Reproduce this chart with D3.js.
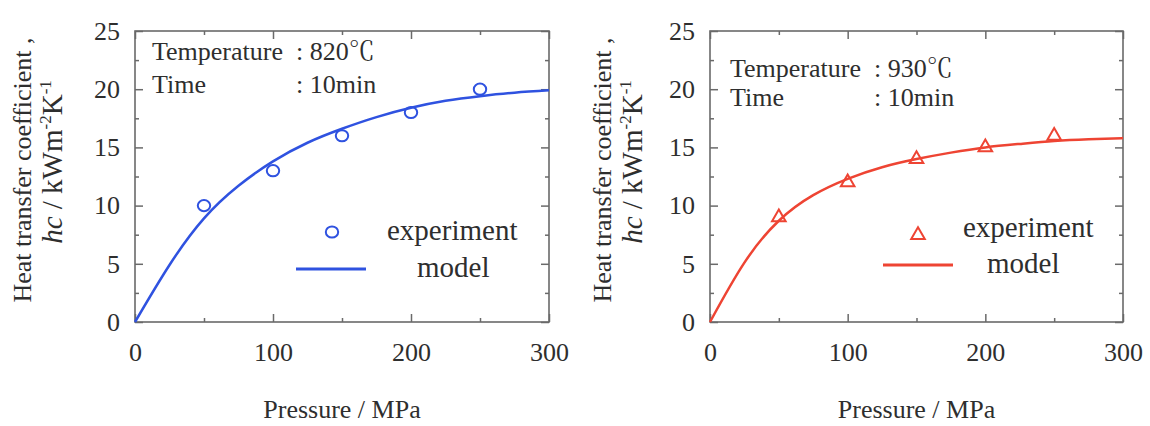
<!DOCTYPE html>
<html>
<head>
<meta charset="utf-8">
<script src="https://cdn.jsdelivr.net/npm/d3@7"></script>
<style>
  html, body { margin: 0; padding: 0; background: #fff; }
  svg { display: block; }
  text { font-family: "Liberation Serif", "Times New Roman", "Noto Serif CJK JP", "Noto Sans CJK JP", serif; fill: #2e2e2e; }
</style>
</head>
<body>
<svg id="chart" width="1150" height="426"></svg>
<script>
// ---- data ----
const pressureTicks = [0, 100, 200, 300];
const pressureMinor = [50, 150, 250];
const hcTicks = [0, 5, 10, 15, 20, 25];
const hcMinor = [2.5, 7.5, 12.5, 17.5, 22.5];

const expPressure = [50, 100, 150, 200, 250];
const exp820 = [10, 13, 16, 18, 20];
const exp930 = [9, 12, 14, 15, 16];

const modelPressure = [0, 25, 50, 75, 100, 125, 150, 175, 200, 225, 250, 275, 300];
const model820 = [0, 4.9, 8.9, 11.7, 13.8, 15.4, 16.6, 17.6, 18.4, 19.0, 19.4, 19.7, 19.9];
const model930 = [0, 5.1, 8.7, 10.9, 12.3, 13.3, 14.0, 14.55, 15.0, 15.3, 15.55, 15.7, 15.8];

const panels = [
  { temp: "820℃", time: "10min", exp: exp820, model: model820, color: "#2f52e0", marker: "circle" },
  { temp: "930℃", time: "10min", exp: exp930, model: model930, color: "#ee4433", marker: "triangle" }
];

const layout = [
  { x0: 135, x1: 549, y0: 31, y1: 322, lab1x: 31, lab2x: 62, lab1y: 170, lab2y: 162,
    tx: 152, colonx: 296, ty1: 60, ty2: 93,
    legMarkX: 332, legMarkY: 232, legExpX: 387, legExpY: 240, legLine: [296, 366], legLineY: 269, legModelX: 417, legModelY: 277 },
  { x0: 710, x1: 1123, y0: 31, y1: 322, lab1x: 611, lab2x: 642, lab1y: 170, lab2y: 162,
    tx: 730, colonx: 874, ty1: 77, ty2: 106,
    legMarkX: 918, legMarkY: 235, legExpX: 963, legExpY: 237, legLine: [883, 953], legLineY: 265, legModelX: 987, legModelY: 273 }
];

const svg = d3.select("#chart");
const FS = 26;
const LEG_FS = 29;
const axisColor = "#6a6a6a";

panels.forEach((p, i) => {
  const L = layout[i];
  const x = d3.scaleLinear().domain([0, 300]).range([L.x0, L.x1]);
  const y = d3.scaleLinear().domain([0, 25]).range([L.y1, L.y0]);
  const g = svg.append("g");

  function styleAxis(sel) {
    sel.select(".domain").remove();
    sel.selectAll("line").attr("stroke", axisColor).attr("stroke-width", 1.5);
    sel.selectAll("text").style("font-size", FS + "px").attr("fill", "#2e2e2e");
  }

  // major axes with labels
  g.append("g").attr("transform", `translate(0,${L.y1})`)
    .call(d3.axisBottom(x).tickValues(pressureTicks).tickSize(-8).tickPadding(21).tickFormat(d3.format("d")))
    .call(styleAxis);
  g.append("g").attr("transform", `translate(${L.x0},0)`)
    .call(d3.axisLeft(y).tickValues(hcTicks).tickSize(-8).tickPadding(15).tickFormat(d3.format("d")))
    .call(styleAxis);
  // opposite sides, no labels
  g.append("g").attr("transform", `translate(0,${L.y0})`)
    .call(d3.axisTop(x).tickValues(pressureTicks).tickSize(-8).tickFormat(""))
    .call(styleAxis);
  g.append("g").attr("transform", `translate(${L.x1},0)`)
    .call(d3.axisRight(y).tickValues(hcTicks).tickSize(-8).tickFormat(""))
    .call(styleAxis);
  // minor ticks
  g.append("g").attr("transform", `translate(0,${L.y1})`)
    .call(d3.axisBottom(x).tickValues(pressureMinor).tickSize(-4).tickFormat("")).call(styleAxis);
  g.append("g").attr("transform", `translate(0,${L.y0})`)
    .call(d3.axisTop(x).tickValues(pressureMinor).tickSize(-4).tickFormat("")).call(styleAxis);
  g.append("g").attr("transform", `translate(${L.x0},0)`)
    .call(d3.axisLeft(y).tickValues(hcMinor).tickSize(-4).tickFormat("")).call(styleAxis);
  g.append("g").attr("transform", `translate(${L.x1},0)`)
    .call(d3.axisRight(y).tickValues(hcMinor).tickSize(-4).tickFormat("")).call(styleAxis);

  // frame
  g.append("rect").attr("x", L.x0).attr("y", L.y0).attr("width", L.x1 - L.x0).attr("height", L.y1 - L.y0)
    .attr("fill", "none").attr("stroke", axisColor).attr("stroke-width", 1.6);

  // model curve
  const modelData = modelPressure.map((v, k) => [v, p.model[k]]);
  const line = d3.line().x(d => x(d[0])).y(d => y(d[1])).curve(d3.curveNatural);
  g.append("path").datum(modelData).attr("d", line)
    .attr("fill", "none").attr("stroke", p.color).attr("stroke-width", 2.5);

  // experiment markers
  const expData = expPressure.map((v, k) => [v, p.exp[k]]);
  function drawMarker(sel, cx, cy) {
    if (p.marker === "circle") {
      sel.append("ellipse").attr("cx", cx).attr("cy", cy).attr("rx", 6.2).attr("ry", 5.6)
        .attr("fill", "none").attr("stroke", p.color).attr("stroke-width", 2);
    } else {
      sel.append("path").attr("d", d3.symbol(d3.symbolTriangle, 80)())
        .attr("transform", `translate(${cx},${cy})`)
        .attr("fill", "none").attr("stroke", p.color).attr("stroke-width", 2);
    }
  }
  expData.forEach(d => drawMarker(g, x(d[0]), y(d[1])));

  // annotation
  g.append("text").attr("x", L.tx).attr("y", L.ty1).style("font-size", FS + "px").text("Temperature");
  g.append("text").attr("x", L.colonx).attr("y", L.ty1).style("font-size", FS + "px").text(": " + p.temp);
  g.append("text").attr("x", L.tx).attr("y", L.ty2).style("font-size", FS + "px").text("Time");
  g.append("text").attr("x", L.colonx).attr("y", L.ty2).style("font-size", FS + "px").text(": " + p.time);

  // legend
  drawMarker(g, L.legMarkX, L.legMarkY);
  g.append("text").attr("x", L.legExpX).attr("y", L.legExpY).style("font-size", LEG_FS + "px").text("experiment");
  g.append("line").attr("x1", L.legLine[0]).attr("x2", L.legLine[1]).attr("y1", L.legLineY).attr("y2", L.legLineY)
    .attr("stroke", p.color).attr("stroke-width", 3);
  g.append("text").attr("x", L.legModelX).attr("y", L.legModelY).style("font-size", LEG_FS + "px").text("model");

  // x axis title
  g.append("text").attr("x", (L.x0 + L.x1) / 2).attr("y", 418).attr("text-anchor", "middle")
    .style("font-size", FS + "px").text("Pressure / MPa");

  // y axis title (two lines, rotated)
  g.append("text").attr("text-anchor", "middle").style("font-size", FS + "px")
    .attr("transform", `translate(${L.lab1x},${L.lab1y}) rotate(-90)`)
    .text("Heat transfer coefficient ,");

  const t2 = g.append("text").attr("text-anchor", "middle").style("font-size", "29px")
    .attr("transform", `translate(${L.lab2x},${L.lab2y}) rotate(-90)`);
  t2.append("tspan").style("font-style", "italic").text("hc");
  t2.append("tspan").text(" / kWm");
  t2.append("tspan").attr("dy", -11).style("font-size", "17px").text("-2");
  t2.append("tspan").attr("dy", 11).text("K");
  t2.append("tspan").attr("dy", -11).style("font-size", "17px").text("-1");
});
</script>
</body>
</html>
